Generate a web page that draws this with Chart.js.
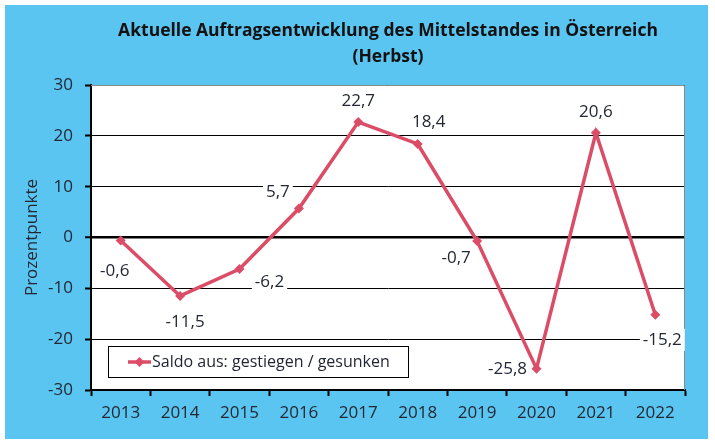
<!DOCTYPE html>
<html>
<head>
<meta charset="utf-8">
<script src="https://cdn.jsdelivr.net/npm/chart.js@4.4.1/dist/chart.umd.min.js"></script>
<style>
html, body { margin: 0; padding: 0; background: #fff; }
#wrap { width: 715px; height: 447px; position: relative; }
</style>
</head>
<body>
<div id="wrap"><canvas id="canvas"></canvas></div>
<script>
var years = ["2013", "2014", "2015", "2016", "2017", "2018", "2019", "2020", "2021", "2022"];
var saldo = [-0.6, -11.5, -6.2, 5.7, 22.7, 18.4, -0.7, -25.8, 20.6, -15.2];
var yTicks = [-30, -20, -10, 0, 10, 20, 30];
var seriesName = "Saldo aus: gestiegen / gesunken";
var titleLines = ["Aktuelle Auftragsentwicklung des Mittelstandes in Österreich", "(Herbst)"];
var axisTitle = "Prozentpunkte";

// where each value label sits relative to its point (px)
var labelOffsets = [[-6, 31], [5, 26], [30, 13], [-21, -16], [0, -21], [11, -22], [-21, 17], [-29, 1], [0, -21], [7, 25]];

var lineColor = "#DB4D67";
var textColor = "#222833";
var fontFamily = "'Open Sans', sans-serif";

function fmt(v) {
    return v.toFixed(1).replace(".", ",");
}

var decor = {
    id: "decor",
    beforeDraw: function (chart) {
        var ctx = chart.ctx, a = chart.chartArea;
        ctx.save();
        ctx.fillStyle = "#fff";
        ctx.fillRect(0, 0, chart.width, chart.height);
        ctx.fillStyle = "#5BC5F1";
        ctx.fillRect(5, 5, 703, 434);
        ctx.fillStyle = "#fff";
        ctx.fillRect(a.left, a.top, a.right - a.left, a.bottom - a.top);
        // title, centred over the plot area
        ctx.fillStyle = "#111";
        ctx.font = "bold 17.5px " + fontFamily;
        ctx.textAlign = "center";
        ctx.textBaseline = "middle";
        var cx = (a.left + a.right) / 2;
        ctx.fillText(titleLines[0], cx, 31);
        ctx.fillText(titleLines[1], cx, 57);
        ctx.restore();
    },
    afterDraw: function (chart) {
        var ctx = chart.ctx, a = chart.chartArea;
        var meta = chart.getDatasetMeta(0);
        ctx.save();
        // grey frame on top and right
        ctx.strokeStyle = "#8a8a8a";
        ctx.lineWidth = 1;
        ctx.beginPath();
        ctx.moveTo(a.left, a.top + 0.5);
        ctx.lineTo(a.right - 0.5, a.top + 0.5);
        ctx.lineTo(a.right - 0.5, a.bottom);
        ctx.stroke();

        // value labels
        ctx.font = "17px " + fontFamily;
        ctx.textAlign = "center";
        ctx.textBaseline = "middle";
        for (var i = 0; i < saldo.length; i++) {
            var p = meta.data[i];
            var txt = fmt(saldo[i]);
            var x = p.x + labelOffsets[i][0];
            var y = p.y + labelOffsets[i][1];
            var w = ctx.measureText(txt).width + 6;
            ctx.fillStyle = "#fff";
            ctx.fillRect(x - w / 2, y - 11, w, 22);
            ctx.fillStyle = textColor;
            ctx.fillText(txt, x, y);
        }

        // legend box inside the plot
        var lx = a.left + 17, ly = a.bottom - 44, lw = 300, lh = 31;
        ctx.fillStyle = "#fff";
        ctx.fillRect(lx, ly, lw, lh);
        ctx.strokeStyle = "#000";
        ctx.lineWidth = 1;
        ctx.strokeRect(lx + 0.5, ly + 0.5, lw, lh);
        var my = ly + lh / 2 + 0.5;
        ctx.strokeStyle = lineColor;
        ctx.lineWidth = 3.5;
        ctx.beginPath();
        ctx.moveTo(lx + 20, my);
        ctx.lineTo(lx + 43, my);
        ctx.stroke();
        ctx.fillStyle = lineColor;
        ctx.beginPath();
        ctx.moveTo(lx + 31.5, my - 5);
        ctx.lineTo(lx + 36.5, my);
        ctx.lineTo(lx + 31.5, my + 5);
        ctx.lineTo(lx + 26.5, my);
        ctx.closePath();
        ctx.fill();
        ctx.fillStyle = textColor;
        ctx.textAlign = "left";
        ctx.font = "16px " + fontFamily;
        ctx.fillText(seriesName, lx + 44, my);
        ctx.restore();
    }
};

new Chart(document.getElementById("canvas"), {
    type: "line",
    data: {
        labels: years,
        datasets: [{
            label: seriesName,
            data: saldo,
            borderColor: lineColor,
            backgroundColor: lineColor,
            borderWidth: 3.5,
            pointStyle: "rectRot",
            pointRadius: 5,
            pointBorderWidth: 0,
            tension: 0
        }]
    },
    options: {
        responsive: true,
        maintainAspectRatio: false,
        animation: false,
        layout: {
            padding: { left: 0, top: 85, right: 30, bottom: 8 }
        },
        plugins: {
            legend: { display: false },
            title: { display: false },
            tooltip: { enabled: false }
        },
        scales: {
            x: {
                offset: true,
                afterFit: function (s) { s.height = 49; },
                grid: {
                    offset: true,
                    drawOnChartArea: false,
                    drawTicks: true,
                    tickLength: 6,
                    tickWidth: 2,
                    tickColor: "#000"
                },
                border: { color: "#000", width: 2 },
                ticks: {
                    color: textColor,
                    padding: 7,
                    maxRotation: 0,
                    font: { family: fontFamily, size: 17 }
                }
            },
            y: {
                min: -30,
                max: 30,
                afterFit: function (s) { s.width = 91; },
                afterBuildTicks: function (s) {
                    s.ticks = yTicks.map(function (v) { return { value: v }; });
                },
                grid: {
                    color: "#000",
                    lineWidth: function (c) { return c.tick && c.tick.value === 0 ? 2.5 : 1; },
                    tickLength: 6,
                    tickColor: "#000",
                    tickWidth: 2
                },
                border: { color: "#000", width: 2 },
                ticks: {
                    color: textColor,
                    padding: 12,
                    font: { family: fontFamily, size: 17 }
                },
                title: {
                    display: true,
                    text: axisTitle,
                    color: textColor,
                    padding: { top: 22, bottom: 0 },
                    font: { family: fontFamily, size: 17 }
                }
            }
        }
    },
    plugins: [decor]
});
</script>
</body>
</html>
